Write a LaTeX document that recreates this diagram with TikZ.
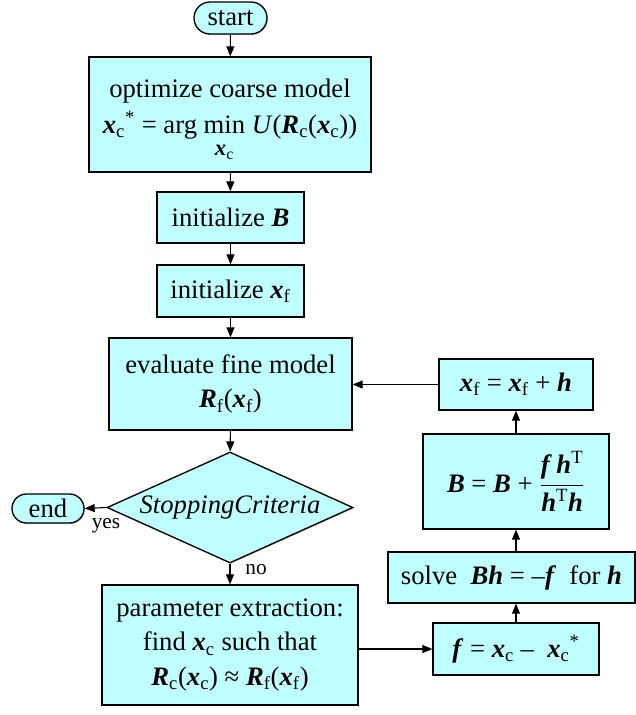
\documentclass[tikz,border=0pt]{standalone}
\usepackage{fontspec}
\setmainfont{Liberation Serif}
\usetikzlibrary{shapes.geometric,shapes.misc,arrows.meta,shadows}
\definecolor{boxfill}{HTML}{BFFFFF}
\newcommand{\bv}[1]{\textbf{\textit{#1}}}
\newcommand{\lo}[1]{\textsubscript{#1}}
\newcommand{\hi}[1]{\textsuperscript{#1}}
\begin{document}
\begin{tikzpicture}[x=0.75pt,y=-0.75pt,
			proc/.style={
				rectangle,
				draw=black,
				line width=1pt,
				fill=boxfill,
				drop shadow={shadow xshift=0.7pt,shadow yshift=-0.7pt,fill=black!55},
				inner sep=0pt,
				align=center,
				font=\fontsize{20}{26}\selectfont
			},
			term/.style={
				proc,
				rounded rectangle
			},
			test/.style={
				proc,
				diamond,
				aspect=2.2
			},
			flow/.style={
				line width=0.8pt,
				-{Triangle[length=7.5pt,width=6pt]}
			},
			note/.style={
				font=\fontsize{16}{18}\selectfont
			}
			]
			\useasboundingbox (0,0) rectangle (636,715);
			%---------------- LEFT COLUMN ----------------
			\node[term, minimum width=54.75pt, minimum height=24pt] (start) at (230.5,18) {start};
			\node[proc, minimum width=211.5pt, minimum height=86.25pt] (coarse) at (230,114.5)
				{\rule{0pt}{26pt}optimize coarse model\\[1pt]
				 \bv{x}\lo{c}\hi{*} = arg \begin{tabular}[t]{@{}c@{}}min\\[-9pt]\fontsize{17}{18}\selectfont\bv{x}\lo{c}\end{tabular} \textit{U}(\bv{R}\lo{c}(\bv{x}\lo{c}))};
			\node[proc, minimum width=110.25pt, minimum height=38.25pt] (initB) at (230.5,217.5) {initialize \bv{B}};
			\node[proc, minimum width=110.25pt, minimum height=39pt] (initx) at (230.5,291) {initialize \bv{x}\lo{f}};
			\node[proc, minimum width=182.25pt, minimum height=69pt] (fine) at (230.5,384)
				{evaluate fine model\\ \bv{R}\lo{f}(\bv{x}\lo{f})};
			\node[test, minimum width=184.5pt, minimum height=83.25pt] (stop) at (230,507.5) {\textit{StoppingCriteria}};
			\node[term, minimum width=54pt, minimum height=21.75pt] (end) at (48,508.5) {end};
			\node[proc, minimum width=192pt, minimum height=90pt] (extract) at (230,645)
				{parameter extraction:\\ find \bv{x}\lo{c} such that\\ \bv{R}\lo{c}(\bv{x}\lo{c}) ≈ \bv{R}\lo{f}(\bv{x}\lo{f})};
			%---------------- RIGHT COLUMN ----------------
			\node[proc, minimum width=124.5pt, minimum height=39pt] (fvec) at (516,649)
				{\bv{f} = \bv{x}\lo{c} –\ \ \bv{x}\lo{c}\hi{*}};
			\node[proc, minimum width=185.25pt, minimum height=38.25pt] (solve) at (511.5,577.5)
				{solve\ \ \bv{Bh} = –\bv{f}\ \ for \bv{h}};
			\node[proc, minimum width=139.5pt, minimum height=71.25pt] (update) at (516,481.5)
				{\bv{B} = \bv{B} + $\displaystyle\frac{\mbox{\bv{f}\,\bv{h}\hi{T}}}{\mbox{\bv{h}\hi{T}\bv{h}}}$};
			\node[proc, minimum width=115.5pt, minimum height=38.25pt] (step) at (516,384.5)
				{\bv{x}\lo{f} = \bv{x}\lo{f} + \bv{h}};
			%---------------- ARROWS ----------------
			\draw[flow] (start) -- (coarse);
			\draw[flow] (coarse) -- (initB);
			\draw[flow] (initB) -- (initx);
			\draw[flow] (initx) -- (fine);
			\draw[flow] (fine) -- (stop);
			\draw[flow] (stop.west) -- (end.east);
			\draw[flow] (stop.south) -- (extract.north);
			\draw[flow] (extract.east |- fvec.west) -- (fvec.west);
			\draw[flow] (fvec) -- (fvec |- solve.south);
			\draw[flow] (update |- solve.north) -- (update);
			\draw[flow] (update) -- (step);
			\draw[flow] (step.west) -- (fine.east |- step.west);
			\node[note] (yes) at (106,526) {yes};
			\node[note] (no) at (256,570) {no};
		\end{tikzpicture}
\end{document}
